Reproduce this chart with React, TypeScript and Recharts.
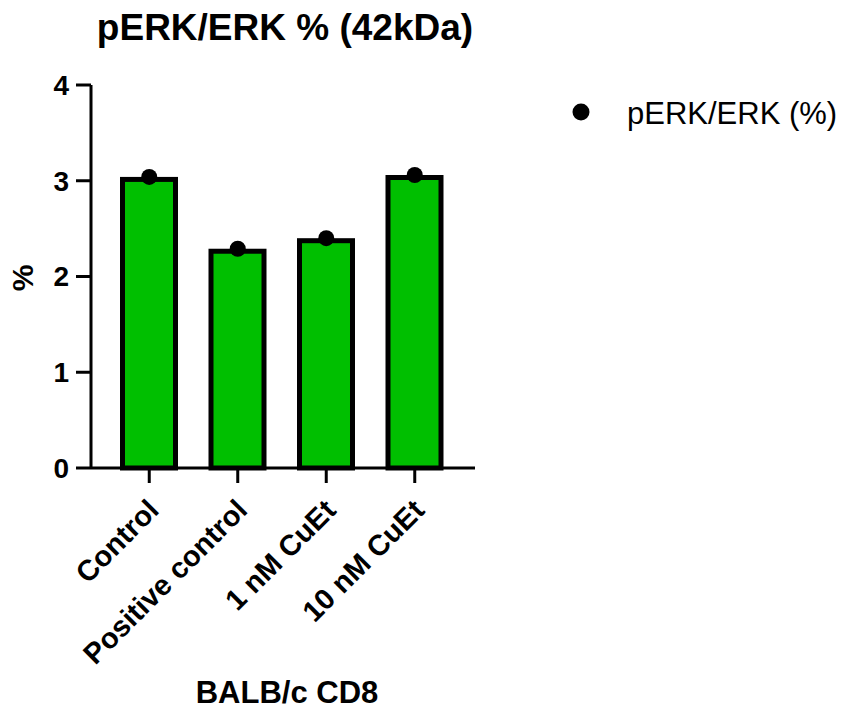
import { Bar, ComposedChart, Scatter, XAxis, YAxis } from "recharts";

const CATEGORIES = ["Control", "Positive control", "1 nM CuEt", "10 nM CuEt"];
const BAR_VALUES = [3.04, 2.29, 2.4, 3.06];
const POINT_VALUES = [3.04, 2.29, 2.4, 3.06];
const Y_TICKS = [0, 1, 2, 3, 4];

const FONT = '"Liberation Sans", Arial, Helvetica, sans-serif';
const GREEN = "#00bf00";
const BORDER = 5;

const data = CATEGORIES.map((name, i) => ({
  name,
  mean: BAR_VALUES[i],
  value: POINT_VALUES[i],
}));

// prism draws the bar border inside the bar, so inset the rect by half the stroke
function InsetBar(props: any) {
  const { x, y, width, height } = props;
  const h = BORDER / 2;
  return (
    <rect
      x={x + h}
      y={y + h}
      width={width - BORDER}
      height={height - h}
      fill={GREEN}
      stroke="#000"
      strokeWidth={BORDER}
    />
  );
}

function Dot(props: any) {
  return <circle cx={props.cx} cy={props.cy} r={8} fill="#000" />;
}

function CategoryTick(props: any) {
  const { x, y, payload } = props;
  return (
    <g transform={`translate(${x},${y}) rotate(-45)`}>
      <text
        x={-11}
        y={27}
        textAnchor="end"
        fontFamily={FONT}
        fontWeight="bold"
        fontSize={29}
        fill="#000"
      >
        {payload.value}
      </text>
    </g>
  );
}

export default function App() {
  return (
    <div style={{ position: "absolute", left: 0, top: 0, width: 841, height: 713, background: "#fff" }}>
      <ComposedChart
        width={841}
        height={713}
        data={data}
        margin={{ top: 85, right: 366, bottom: 5, left: 0 }}
      >
        <XAxis
          dataKey="name"
          interval={0}
          height={240}
          padding={{ left: 14, right: 16 }}
          tickSize={15}
          axisLine={{ stroke: "#000", strokeWidth: 3 }}
          tickLine={{ stroke: "#000", strokeWidth: 3 }}
          tick={<CategoryTick />}
        />
        <YAxis
          width={91}
          domain={[0, 4]}
          ticks={Y_TICKS}
          tickSize={15}
          tickMargin={7}
          axisLine={{ stroke: "#000", strokeWidth: 3 }}
          tickLine={{ stroke: "#000", strokeWidth: 3 }}
          tick={{ fill: "#000", fontSize: 28, fontWeight: "bold", fontFamily: FONT }}
        />
        <Bar dataKey="mean" barSize={58} shape={<InsetBar />} isAnimationActive={false} />
        <Scatter dataKey="value" shape={<Dot />} isAnimationActive={false} />
      </ComposedChart>

      <svg
        width={841}
        height={713}
        style={{ position: "absolute", left: 0, top: 0, pointerEvents: "none" }}
        fontFamily={FONT}
      >
        <text x={285} y={40} textAnchor="middle" fontSize={37} fontWeight="bold">
          pERK/ERK % (42kDa)
        </text>
        <text x={287} y={703} textAnchor="middle" fontSize={31} fontWeight="bold">
          BALB/c CD8
        </text>
        <text
          transform="translate(33,278) rotate(-90)"
          textAnchor="middle"
          fontSize={30}
          fontWeight="bold"
        >
          %
        </text>
        <circle cx={581} cy={112} r={8.5} fill="#000" />
        <text x={627} y={124} fontSize={31}>
          pERK/ERK (%)
        </text>
      </svg>
    </div>
  );
}
